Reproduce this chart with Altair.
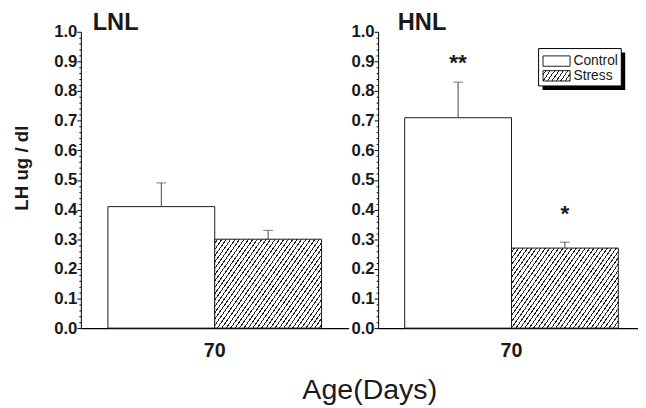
import altair as alt
import pandas as pd

# ---------------- data ----------------
groups = ["Control", "Stress"]
panel_names = ["LNL", "HNL"]
age = ["70", "70"]
lnl_mean = [0.41, 0.30]
lnl_upper = [0.49, 0.33]
hnl_mean = [0.71, 0.27]
hnl_upper = [0.83, 0.29]
lnl_sig = ["", ""]
hnl_sig = ["**", "*"]
lnl_sig_y = [0.0, 0.0]
hnl_sig_y = [0.905, 0.395]
y_major = [0.0, 0.1, 0.2, 0.3, 0.4, 0.5, 0.6, 0.7, 0.8, 0.9, 1.0]
y_ticks = [round(i * 0.02, 2) for i in range(51)]  # major + minor tick positions
y_title = "LH ug / dl"
x_title = "Age(Days)"

# ---------------- styling ----------------
FONT = "Liberation Sans"
INK = "#1a1a1a"
H = 301          # plot height (px)
BAND = 217       # width of the pair of bars (px)
W_LEFT = 272
W_RIGHT = 264


def hatch(w, h, spacing=4.5, k=0.7, thick=1.2, ink="#222222", paper="white"):
    """Diagonal '/' hatching as a sharp-stop linear gradient (bbox units)."""
    L = w + k * h
    beta = k * h / w
    lam = (1 + beta) / (1 + beta ** 2)
    stops = [alt.GradientStop(offset=0, color=paper)]
    f = spacing / 2
    while f < L:
        a = round(f / L, 5)
        b = round(min((f + thick) / L, 1.0), 5)
        stops += [
            alt.GradientStop(offset=a, color=paper),
            alt.GradientStop(offset=a, color=ink),
            alt.GradientStop(offset=b, color=ink),
            alt.GradientStop(offset=b, color=paper),
        ]
        f += spacing
    stops.append(alt.GradientStop(offset=1, color=paper))
    return alt.LinearGradient(gradient="linear", stops=stops,
                              x1=0, y1=0, x2=round(lam, 5), y2=round(lam * beta, 5))


major_test = "round(datum.value * 50) % 5 === 0"


def panel(name, mean, upper, sig, sig_y, width, align, left, title_dx):
    df = pd.DataFrame({"age": age, "group": groups, "mean": mean,
                       "upper": upper, "sig": sig, "sig_y": sig_y})
    pad_outer = (width / BAND - 1) / 2
    x_axis = alt.Axis(
        labelAngle=0, ticks=False, domainColor="black", domainWidth=1.3,
        labelFont=FONT, labelFontSize=20, labelFontWeight="bold",
        labelColor=INK, labelPadding=13,
        titleFont=FONT, titleFontSize=29, titleFontWeight="normal",
        titleColor=INK, titleX=293, titleY=72, titleAlign="center",
        titleBaseline="alphabetic",
    )
    x_enc = alt.X("age:N", title=x_title if left else None,
                  scale=alt.Scale(paddingInner=0, paddingOuter=pad_outer, align=align),
                  axis=x_axis)
    xo = alt.XOffset("group:N", scale=alt.Scale(domain=groups, paddingInner=0, paddingOuter=0))
    y_axis = alt.Axis(
        values=y_ticks, labelExpr=f"({major_test}) ? format(datum.value, '.1f') : ''",
        tickSize={"condition": {"test": major_test, "value": 4}, "value": 2},
        tickColor="black", tickWidth=1, domainColor="black", domainWidth=1,
        labelFont=FONT, labelFontSize=17, labelFontWeight="bold", labelColor=INK,
        labelPadding=0, labelOverlap=False, labelFlush=False, grid=False,
        title=y_title if left else None,
        titleFont=FONT, titleFontSize=19, titleFontWeight="bold", titleColor=INK,
        titleX=-60, titleY=138, titleAngle=270, titleAlign="center", titleBaseline="middle",
    )
    y_scale = alt.Scale(domain=[0, 1], nice=False, zero=True)

    def Y(field):
        return alt.Y(field, scale=y_scale, axis=y_axis)

    base = alt.Chart(df).encode(x=x_enc, xOffset=xo, y=Y("mean:Q"))

    bars_c = base.mark_bar(fill="white", stroke=INK, strokeWidth=1).transform_filter(
        alt.datum.group == groups[0])
    bars_s = base.mark_bar(fill=hatch(BAND / 2, mean[1] * H), stroke=INK, strokeWidth=1
                           ).transform_filter(alt.datum.group == groups[1])
    err = base.mark_rule(color="#444444", strokeWidth=1).encode(y=Y("mean:Q"), y2="upper:Q")
    cap = base.mark_tick(color="#444444", thickness=1, size=10).encode(y=Y("upper:Q"))
    stars = base.mark_text(font=FONT, fontSize=23, fontWeight="bold", color=INK, dy=3
                           ).encode(y=Y("sig_y:Q"), text="sig:N")

    ttl = alt.Chart(pd.DataFrame({"t": [name]})).mark_text(
        font=FONT, fontSize=24, fontWeight="bold", color=INK, align="left",
        baseline="alphabetic").encode(x=alt.value(title_dx), y=alt.value(-2), text="t:N")

    layers = [bars_c, bars_s, err, cap, stars, ttl]

    if not left:
        one = lambda v: pd.DataFrame({"label": [v]})
        shadow = alt.Chart(one("")).mark_rect(fill="black").encode(
            x=alt.value(167), x2=alt.value(251), y=alt.value(21), y2=alt.value(59))
        box = alt.Chart(one("")).mark_rect(fill="white", stroke="black", strokeWidth=1).encode(
            x=alt.value(163), x2=alt.value(247), y=alt.value(17), y2=alt.value(55))
        sw_c = alt.Chart(one(groups[0])).mark_rect(fill="white", stroke=INK, strokeWidth=1).encode(
            x=alt.value(167.5), x2=alt.value(195), y=alt.value(24.5), y2=alt.value(35))
        sw_s = alt.Chart(one(groups[1])).mark_rect(
            fill=hatch(27.5, 10.5, spacing=4.5, thick=1.1), stroke=INK, strokeWidth=1).encode(
            x=alt.value(167.5), x2=alt.value(195), y=alt.value(39.5), y2=alt.value(50))
        tx_c = alt.Chart(one(groups[0])).mark_text(
            font=FONT, fontSize=14, color=INK, align="left", baseline="middle").encode(
            x=alt.value(198.5), y=alt.value(29.5), text="label:N")
        tx_s = alt.Chart(one(groups[1])).mark_text(
            font=FONT, fontSize=14, color=INK, align="left", baseline="middle").encode(
            x=alt.value(198.5), y=alt.value(44.5), text="label:N")
        layers += [shadow, box, sw_c, sw_s, tx_c, tx_s]

    return alt.layer(*layers).properties(width=width, height=H)


left_panel = panel(panel_names[0], lnl_mean, lnl_upper, lnl_sig, lnl_sig_y,
                   W_LEFT, 0.5, True, 12)
right_panel = panel(panel_names[1], hnl_mean, hnl_upper, hnl_sig, hnl_sig_y,
                    W_RIGHT, 27 / (W_RIGHT - BAND), False, 20)

chart = alt.hconcat(left_panel, right_panel, spacing=30, bounds="flush").properties(
    padding={"left": 5, "top": 0, "right": 0, "bottom": 0},
    background="white",
).configure_view(stroke=None)

chart.save("out.html", embed_options={"renderer": "svg", "actions": False})
